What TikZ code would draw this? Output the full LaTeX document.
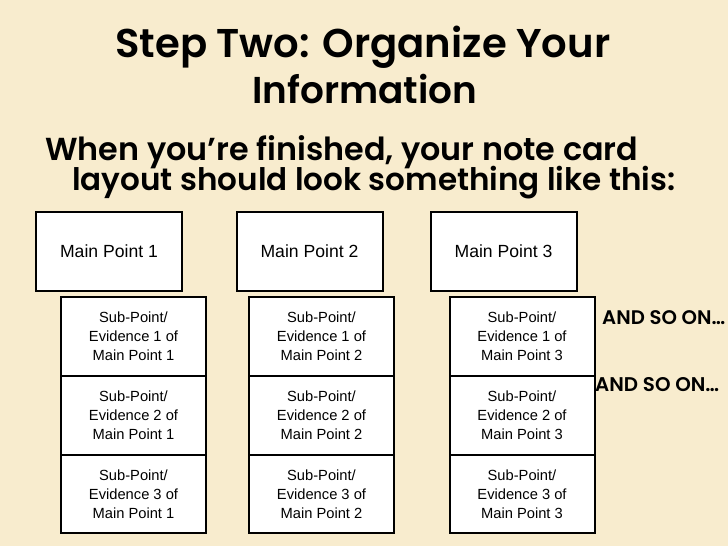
\documentclass[tikz,border=0pt]{standalone}
\usepackage{graphicx}
\usepackage{fontspec}
\setmainfont{Liberation Sans}
\newfontfamily\comicfont{Poppins}[UprightFont={* SemiBold}]
\definecolor{parch}{RGB}{248,236,206}
\begin{document}
\begin{tikzpicture}[x=1pt,y=-1pt,
  card/.style={draw=black, line width=2pt, fill=white, minimum width=145pt,
    minimum height=79pt, inner sep=0pt, align=center,
    font=\fontsize{14.7}{19}\selectfont},
  mainbox/.style={card, minimum width=146pt, font=\fontsize{17.6}{20}\selectfont},
  head/.style={inner sep=0pt, anchor=base west, font=\comicfont},
  more/.style={inner sep=0pt, anchor=west, font=\comicfont}]
\useasboundingbox (0,0) rectangle (728,546);
\fill[parch] (0,0) rectangle (728,546);

% headings
\node[head] (t1) at (115,57) {\resizebox{495pt}{!}{Step Two: Organize Your}};
\node[head] (t2) at (252,103) {\resizebox{225pt}{!}{Information}};
\node[head] (s1) at (45,160) {\resizebox{593pt}{!}{When you’re finished, your note card}};
\node[head] (s2) at (72,190) {\resizebox{603pt}{!}{layout should look something like this:}};

% main points
\node[mainbox] (m1) at (109,251.5) {Main Point 1};
\node[mainbox] (m2) at (309.5,251.5) {Main Point 2};
\node[mainbox] (m3) at (503.5,251.5) {Main Point 3};

% sub points
\foreach \c/\x in {1/133.5, 2/321.5, 3/522}{
  \node[card] (a\c) at (\x,336.5) {Sub-Point/\\Evidence 1 of\\Main Point \c};
  \node[card] (b\c) at (\x,415.5) {Sub-Point/\\Evidence 2 of\\Main Point \c};
  \node[card, minimum height=78pt] (c\c) at (\x,494) {Sub-Point/\\Evidence 3 of\\Main Point \c};
}

% and so on
\node[more] (o1) at (602,318) {\resizebox{123pt}{!}{AND SO ON…}};
\node[more] (o2) at (595,385) {\resizebox{124pt}{!}{AND SO ON…}};
\end{tikzpicture}
\end{document}
